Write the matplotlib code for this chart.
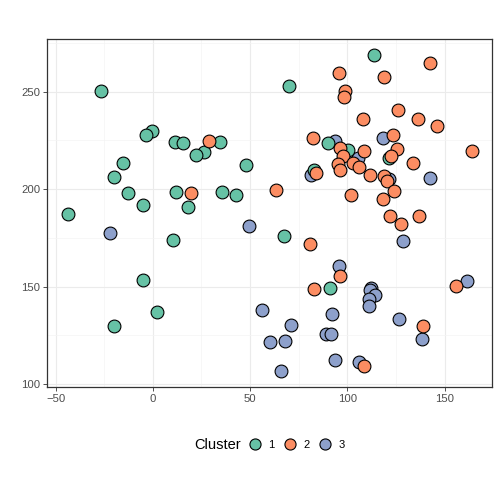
import matplotlib
matplotlib.use("Agg")
import matplotlib.pyplot as plt
from matplotlib.lines import Line2D
from matplotlib.ticker import MultipleLocator

plt.rcParams['font.family'] = ['Liberation Sans', 'DejaVu Sans']

# cluster 1 (green)
x1 = [-26.7, -0.5, -3.6, 11.4, 15.5, 34.7, 26.2, 22.0, -15.2, 48.0, -20.0, -12.7, 12.1, 35.5,
      43.0, -5.1, 18.3, -43.7, 10.4, -5.0, 2.0, -19.8, 113.8, 69.9, 89.9, 100.5, 121.4, 82.7,
      67.3, 91.3]
y1 = [250.5, 230.0, 228.0, 224.4, 223.4, 224.4, 218.9, 217.7, 213.3, 212.5, 206.0, 198.1, 198.3,
      198.6, 196.9, 192.1, 190.8, 187.0, 174.0, 153.5, 137.0, 129.8, 268.9, 252.9, 223.6, 220.3,
      216.2, 209.7, 176.2, 149.1]

# cluster 2 (orange)
x2 = [29.0, 19.6, 142.4, 95.6, 118.8, 99.0, 98.1, 126.3, 108.0, 136.4, 146.0, 82.2, 96.4, 123.6,
      125.6, 108.7, 97.6, 102.9, 105.8, 95.0, 96.0, 122.6, 134.0, 83.9, 111.8, 119.0, 120.3, 164.1,
      63.4, 102.0, 118.1, 124.0, 122.2, 136.8, 127.7, 80.9, 96.4, 82.9, 155.7, 139.0, 108.6]
y2 = [224.9, 198.1, 264.5, 259.6, 257.7, 250.2, 247.3, 240.4, 236.0, 235.8, 232.6, 226.4, 221.2,
      227.5, 220.8, 219.3, 216.9, 213.6, 211.2, 212.8, 209.7, 216.9, 213.3, 208.5, 207.0, 206.6,
      204.1, 219.3, 199.5, 196.8, 194.7, 199.2, 186.2, 186.0, 182.1, 171.9, 155.4, 148.6, 150.3,
      129.7, 109.2]

# cluster 3 (blue)
x3 = [-22.0, 49.4, 55.9, 60.0, 93.8, 118.6, 105.5, 81.5, 121.2, 142.6, 128.4, 95.6, 112.3, 111.8,
      114.0, 110.9, 110.9, 161.5, 70.8, 92.3, 126.8, 138.5, 68.0, 89.0, 91.8, 93.5, 106.0, 66.0]
y3 = [177.7, 181.0, 137.9, 121.5, 224.8, 226.1, 216.0, 207.4, 205.0, 205.6, 173.4, 160.6, 149.5,
      148.1, 145.7, 143.6, 140.0, 152.9, 130.2, 135.8, 133.4, 123.2, 122.2, 125.5, 125.5, 112.1,
      111.3, 106.5]

labels = ['1', '2', '3']
colors = ['#66c2a5', '#fc8d62', '#8da0cb']

fig = plt.figure(figsize=(4.98, 4.98), dpi=100)
ax = fig.add_axes([0.0944, 0.2229, 0.8936, 0.6988])

# blue first, then green, then orange
ax.scatter(x3, y3, s=85, c=colors[2], edgecolors='black', linewidths=0.8, zorder=3)
ax.scatter(x1, y1, s=85, c=colors[0], edgecolors='black', linewidths=0.8, zorder=3)
ax.scatter(x2, y2, s=85, c=colors[1], edgecolors='black', linewidths=0.8, zorder=3)

ax.set_xlim(-54.4, 174.4)
ax.set_ylim(98.5, 277.0)
ax.xaxis.set_major_locator(MultipleLocator(50))
ax.yaxis.set_major_locator(MultipleLocator(50))
ax.xaxis.set_minor_locator(MultipleLocator(25))
ax.yaxis.set_minor_locator(MultipleLocator(25))
ax.grid(which='major', color='#ebebeb', linewidth=0.8, zorder=0)
ax.grid(which='minor', color='#f4f4f4', linewidth=0.5, zorder=0)
ax.set_axisbelow(True)
ax.tick_params(which='major', length=3, width=0.6, color='#333333',
               labelsize=8.2, labelcolor='#4d4d4d', pad=2)
ax.tick_params(which='minor', length=0)
for sp in ax.spines.values():
    sp.set_color('#333333')
    sp.set_linewidth(0.9)

# legend on the bottom, title on the left
fig.text(0.39, 0.106, 'Cluster', fontsize=10.5, ha='left', va='center', color='black')
handles = [Line2D([], [], marker='o', linestyle='', markersize=8, markerfacecolor=c,
                  markeredgecolor='black', markeredgewidth=0.8) for c in colors]
fig.legend(handles, labels, ncol=3, loc='center', bbox_to_anchor=(0.596, 0.106),
           frameon=False, fontsize=8, handletextpad=0.6, columnspacing=0.8,
           handlelength=1.2, borderpad=0)

fig.savefig('out.png', dpi=100)
